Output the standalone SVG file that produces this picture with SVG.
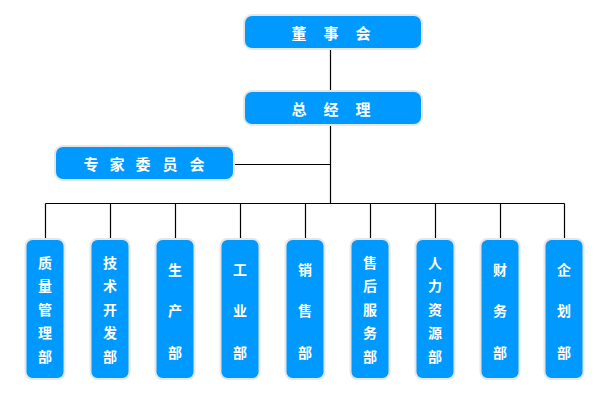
<svg xmlns="http://www.w3.org/2000/svg" width="610" height="400" viewBox="0 0 610 400">
<style>
.box{fill:#0099ff;stroke:#e6e6e6;stroke-width:2}
.t{fill:#ffffff;font-family:"Noto Sans CJK SC","Noto Sans",sans-serif;font-weight:bold;text-anchor:middle;dominant-baseline:central}
.big{font-size:15px}
.sm{font-size:14px}
.ln{stroke:#000;stroke-width:1.2;fill:none}
</style>
<rect width="610" height="400" fill="#fff"/>
<g id="connectors">
<path class="ln" d="M330.5 49V91M330.5 125V203.5M234 164.5H330.5M45.5 203.5H564.5"/>
<path class="ln" d="M45.5 203.5V239M110.5 203.5V239M175.5 203.5V239M240.5 203.5V239M305.5 203.5V239M370.5 203.5V239M435.5 203.5V239M500.5 203.5V239M564.5 203.5V239"/>
</g>
<g id="board"><rect class="box" x="244" y="15" width="178" height="34" rx="8"/><text class="t big" x="299 315 331 347 363" y="32">董 事 会</text></g>
<g id="gm"><rect class="box" x="244" y="91" width="178" height="34" rx="8"/><text class="t big" x="299 315 331 347 363" y="108">总 经 理</text></g>
<g id="experts"><rect class="box" x="55" y="146" width="179" height="34" rx="8"/><text class="t big" x="91 104 117 130 143 156 170 183 197" y="163">专 家 委 员 会</text></g>
<g id="d1"><rect class="box" x="25.5" y="239" width="39" height="140" rx="7"/><text class="t sm" x="45" y="262">质</text><text class="t sm" x="45" y="285">量</text><text class="t sm" x="45" y="309">管</text><text class="t sm" x="45" y="332">理</text><text class="t sm" x="45" y="356">部</text></g>
<g id="d2"><rect class="box" x="90.5" y="239" width="39" height="140" rx="7"/><text class="t sm" x="110" y="262">技</text><text class="t sm" x="110" y="285">术</text><text class="t sm" x="110" y="309">开</text><text class="t sm" x="110" y="332">发</text><text class="t sm" x="110" y="356">部</text></g>
<g id="d3"><rect class="box" x="155.5" y="239" width="39" height="140" rx="7"/><text class="t sm" x="175" y="269">生</text><text class="t sm" x="175" y="310">产</text><text class="t sm" x="175" y="352">部</text></g>
<g id="d4"><rect class="box" x="220.5" y="239" width="39" height="140" rx="7"/><text class="t sm" x="240" y="269">工</text><text class="t sm" x="240" y="310">业</text><text class="t sm" x="240" y="352">部</text></g>
<g id="d5"><rect class="box" x="285.5" y="239" width="39" height="140" rx="7"/><text class="t sm" x="305" y="269">销</text><text class="t sm" x="305" y="310">售</text><text class="t sm" x="305" y="352">部</text></g>
<g id="d6"><rect class="box" x="350.5" y="239" width="39" height="140" rx="7"/><text class="t sm" x="370" y="262">售</text><text class="t sm" x="370" y="285">后</text><text class="t sm" x="370" y="309">服</text><text class="t sm" x="370" y="332">务</text><text class="t sm" x="370" y="356">部</text></g>
<g id="d7"><rect class="box" x="415.5" y="239" width="39" height="140" rx="7"/><text class="t sm" x="435" y="262">人</text><text class="t sm" x="435" y="285">力</text><text class="t sm" x="435" y="309">资</text><text class="t sm" x="435" y="332">源</text><text class="t sm" x="435" y="356">部</text></g>
<g id="d8"><rect class="box" x="480.5" y="239" width="39" height="140" rx="7"/><text class="t sm" x="500" y="269">财</text><text class="t sm" x="500" y="310">务</text><text class="t sm" x="500" y="352">部</text></g>
<g id="d9"><rect class="box" x="544.5" y="239" width="39" height="140" rx="7"/><text class="t sm" x="564" y="269">企</text><text class="t sm" x="564" y="310">划</text><text class="t sm" x="564" y="352">部</text></g>
</svg>
